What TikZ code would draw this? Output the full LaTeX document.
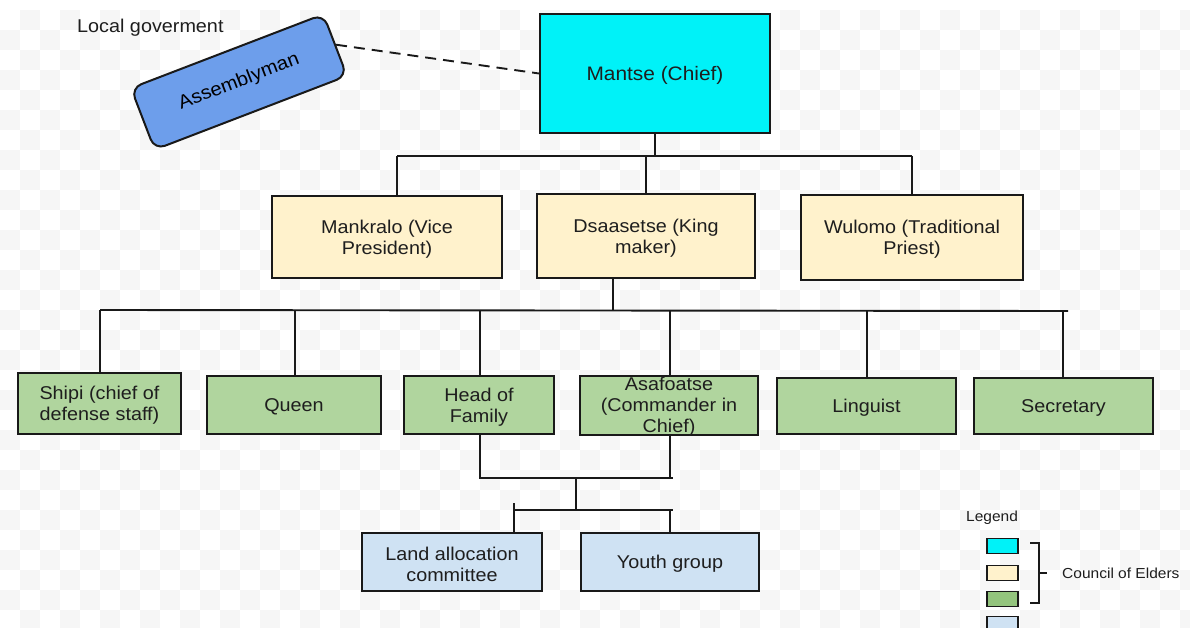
\documentclass[tikz,border=0pt]{standalone}
\usepackage{fontspec}
\setmainfont{Liberation Sans}[FakeStretch=1.07]
\definecolor{cyanbox}{RGB}{0,242,248}
\definecolor{asmblue}{RGB}{109,158,235}
\definecolor{beige}{RGB}{255,242,204}
\definecolor{greenbox}{RGB}{176,213,158}
\definecolor{legreen}{RGB}{147,196,125}
\definecolor{bluebox}{RGB}{207,226,243}
\definecolor{edge}{RGB}{25,25,25}
\definecolor{txt}{RGB}{30,30,30}
\definecolor{checker}{RGB}{246,246,246}
\begin{document}
\begin{tikzpicture}[x=1pt,y=-1pt,
  box/.style={draw=edge, line width=2pt, inner sep=0pt},
  lbl/.style={text=txt, align=center, inner sep=0pt, font=\fontsize{18.5}{21}\selectfont},
  conn/.style={draw=edge, line width=1.9pt},
  legbox/.style={draw=edge, line width=1.6pt, minimum width=31pt, minimum height=15pt, inner sep=0pt}]
\useasboundingbox (0,0) rectangle (1190,628);
\fill[white] (0,0) rectangle (1190,628);
\foreach \i in {0,2,...,58} \foreach \j in {0,2,...,30} {
  \fill[checker] (\i*20+20,\j*20+10) rectangle ++(20,20);
  \fill[checker] (\i*20,\j*20+30) rectangle ++(20,20);
}
% top
\node[lbl, anchor=west] (lg) at (77,28) {Local goverment};
\node[box, fill=asmblue, rotate=21, rounded corners=11pt, minimum width=206pt, minimum height=66pt,
  text={RGB:red,28;green,40;blue,75}, font=\fontsize{19}{22}\selectfont] (asm) at (239,82) {Assemblyman};
\node[box, fill=cyanbox, minimum width=230pt, minimum height=119pt] (mantse) at (655,73.5) {};
\node[lbl, font=\fontsize{19.5}{22}\selectfont] (mantsetxt) at ([yshift=-1.5pt]mantse.center) {Mantse (Chief)};
\draw[conn, dash pattern=on 11pt off 7pt] (asm.east) -- (mantse.west);
% level 2
\node[box, fill=beige, minimum width=230pt, minimum height=82pt] (mank) at (387,237) {};
\node[lbl] (manktxt) at ([yshift=-2pt]mank.center) {Mankralo (Vice\\President)};
\node[box, fill=beige, minimum width=218pt, minimum height=84pt] (dsa) at (646,236) {};
\node[lbl] (dsatxt) at ([yshift=-2pt]dsa.center) {Dsaasetse (King\\maker)};
\node[box, fill=beige, minimum width=222pt, minimum height=85pt] (wul) at (912,237.5) {};
\node[lbl] (wultxt) at ([yshift=-2pt]wul.center) {Wulomo (Traditional\\Priest)};
\coordinate (b1l) at (397,156);
\coordinate (b1r) at (912,156);
\draw[conn] (b1l) -- (b1r);
\draw[conn] (mantse.south) -- (mantse.south |- b1l);
\draw[conn] (b1l) -- (b1l |- mank.north);
\draw[conn] (dsa.north) -- (dsa.north |- b1l);
\draw[conn] (b1r) -- (wul.north);
% level 3
\node[box, fill=greenbox, minimum width=163pt, minimum height=61pt] (shipi) at (99.5,403) {};
\node[lbl] (shipitxt) at ([yshift=-2pt]shipi.center) {Shipi (chief of\\defense staff)};
\node[box, fill=greenbox, minimum width=174pt, minimum height=58pt] (queen) at (294,405) {};
\node[lbl] (queentxt) at ([yshift=-1.5pt]queen.center) {Queen};
\node[box, fill=greenbox, minimum width=150pt, minimum height=58pt] (head) at (479,405) {};
\node[lbl] (headtxt) at ([yshift=-2pt]head.center) {Head of\\Family};
\node[box, fill=greenbox, minimum width=178pt, minimum height=59pt] (asa) at (669,405.5) {};
\node[lbl] (asatxt) at ([yshift=-1pt]asa.center) {Asafoatse\\(Commander in\\Chief)};
\node[box, fill=greenbox, minimum width=179pt, minimum height=56pt] (ling) at (866.5,406) {};
\node[lbl] (lingtxt) at ([yshift=-1.5pt]ling.center) {Linguist};
\node[box, fill=greenbox, minimum width=179pt, minimum height=56pt] (sec) at (1063.5,406) {};
\node[lbl] (sectxt) at ([yshift=-1.5pt]sec.center) {Secretary};
\coordinate (b2l) at (100,310);
\coordinate (b2r) at (1068,311);
\coordinate (d2) at (613,310);
\draw[conn] (b2l) -- (b2r);
\draw[conn] (d2 |- dsa.south) -- (d2);
\draw[conn] (b2l) -- (b2l |- shipi.north);
\draw[conn] (295,310) -- (295,376);
\draw[conn] (480,310) -- (480,376);
\draw[conn] (670,310) -- (670,376);
\draw[conn] (867,310.5) -- (867,378);
\draw[conn] (1063,311) -- (1063,378);
% level 4
\node[box, fill=bluebox, minimum width=180pt, minimum height=58pt] (land) at (452,562) {};
\node[lbl] (landtxt) at ([yshift=-2pt]land.center) {Land allocation\\committee};
\node[box, fill=bluebox, minimum width=178pt, minimum height=58pt] (youth) at (670,562) {};
\node[lbl] (youthtxt) at ([yshift=-1.5pt]youth.center) {Youth group};
\coordinate (j1) at (480,478);
\coordinate (j2) at (670,478);
\coordinate (j3) at (576,478);
\coordinate (b3l) at (514,510);
\coordinate (b3r) at (673,510);
\draw[conn] (480,434) -- (j1) -- (673,478);
\draw[conn] (j2) -- (670,435);
\draw[conn] (j3) -- (576,510);
\draw[conn] (514,503) -- (b3l) -- (b3r);
\draw[conn] (b3l) -- (514,533);
\draw[conn] (670,510) -- (670,533);
% legend
\node[lbl, font=\fontsize{14.5}{17}\selectfont] (legt) at (992,518) {Legend};
\node[legbox, fill=cyanbox] (l1) at (1002.5,546) {};
\node[legbox, fill=beige] (l2) at (1002.5,573) {};
\node[legbox, fill=legreen] (l3) at (1002.5,599) {};
\node[legbox, fill=bluebox] (l4) at (1002.5,624) {};
\draw[conn, line width=1.6pt] (1030,543) -- (1039,543) -- (1039,603) -- (1030,603);
\draw[conn, line width=1.6pt] (1039,573) -- (1047,573);
\node[lbl, anchor=west, font=\fontsize{14.5}{17}\selectfont] (coe) at (1062,573) {Council of Elders};
\end{tikzpicture}
\end{document}
